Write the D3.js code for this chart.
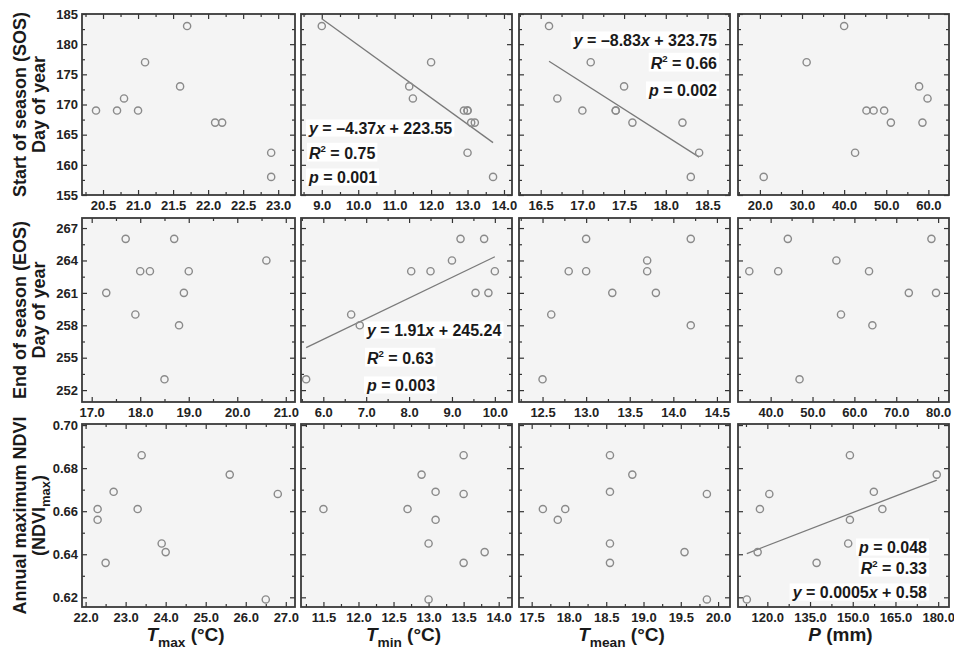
<!DOCTYPE html>
<html>
<head>
<meta charset="utf-8">
<script src="https://cdn.jsdelivr.net/npm/d3@7"></script>
<style>
  body { margin: 0; background: #fff; }
  svg { display: block; font-family: "Liberation Sans", Arial, sans-serif; }
</style>
</head>
<body>
<div id="chart"></div>
<script>
// phenology / NDVI values, one per year (same order used by every driver array below)
var sos = [183, 177, 173, 171, 169, 169, 169, 167, 167, 162, 158];
var eos = [266, 266, 264, 263, 263, 263, 261, 261, 259, 258, 253];
var ndvi = [0.686, 0.677, 0.669, 0.668, 0.661, 0.661, 0.656, 0.645, 0.641, 0.636, 0.619];

// climate drivers paired with SOS
var sosTmax = [21.7, 21.1, 21.6, 20.8, 20.4, 20.7, 21.0, 22.1, 22.2, 22.9, 22.9];
var sosTmin = [9.0, 12.0, 11.4, 11.5, 12.9, 13.0, 13.0, 13.1, 13.2, 13.0, 13.7];
var sosTmean = [16.6, 17.1, 17.5, 16.7, 17.0, 17.4, 17.4, 17.6, 18.2, 18.4, 18.3];
var sosP = [40.0, 31.1, 57.8, 59.8, 45.3, 47.0, 49.5, 51.1, 58.6, 42.6, 20.9];

// climate drivers paired with EOS
var eosTmax = [17.7, 18.7, 20.6, 18.0, 18.2, 19.0, 17.3, 18.9, 17.9, 18.8, 18.5];
var eosTmin = [9.2, 9.75, 9.0, 8.05, 8.5, 10.0, 9.55, 9.85, 6.65, 6.85, 5.6];
var eosTmean = [13.0, 14.2, 13.7, 12.8, 13.0, 13.7, 13.3, 13.8, 12.6, 14.2, 12.5];
var eosP = [44.1, 78.4, 55.7, 34.9, 41.8, 63.5, 73.0, 79.5, 56.8, 64.3, 46.9];

// climate drivers paired with NDVImax
var ndviTmax = [23.4, 25.6, 22.7, 26.8, 22.3, 23.3, 22.3, 23.9, 24.0, 22.5, 26.5];
var ndviTmin = [13.5, 12.9, 13.1, 13.5, 11.5, 12.7, 13.1, 13.0, 13.8, 13.5, 13.0];
var ndviTmean = [18.55, 18.85, 18.55, 19.85, 17.65, 17.95, 17.85, 18.55, 19.55, 18.55, 19.85];
var ndviP = [149.0, 179.5, 157.4, 120.7, 117.4, 160.4, 149.0, 148.4, 116.6, 137.3, 112.8];

// axis ranges and tick labels
var yDomains = [[155, 185], [250.9, 267.93], [0.6155, 0.7005]];
var yTicks = [[155, 160, 165, 170, 175, 180, 185],
              [252, 255, 258, 261, 264, 267],
              [0.62, 0.64, 0.66, 0.68, 0.70]];
var yFormats = ["d", "d", ".2f"];

var xDomains = [
  [[20.2, 23.24], [8.43, 14.22], [16.24, 18.77], [14.8, 64.9]],
  [[16.8, 21.19], [5.48, 10.4], [12.23, 14.65], [32.2, 82.6]],
  [[21.91, 27.23], [11.18, 14.19], [17.33, 20.16], [109.7, 183.8]]
];
var xTicks = [
  [[20.5, 21, 21.5, 22, 22.5, 23], [9, 10, 11, 12, 13, 14], [16.5, 17, 17.5, 18, 18.5], [20, 30, 40, 50, 60]],
  [[17, 18, 19, 20, 21], [6, 7, 8, 9, 10], [12.5, 13, 13.5, 14, 14.5], [40, 50, 60, 70, 80]],
  [[22, 23, 24, 25, 26, 27], [11.5, 12, 12.5, 13, 13.5, 14], [17.5, 18, 18.5, 19, 19.5, 20], [120, 135, 150, 165, 180]]
];

// regression fits [slope, intercept] (null = no fit shown)
var fits = [
  [null, [-4.37, 223.55], [-8.83, 323.75], null],
  [null, [1.91, 245.24], null, null],
  [null, null, null, [0.000511, 0.5827]]
];

var yTitles = [
  [[["Start of season (SOS)", ""]], [["Day of year", ""]]],
  [[["End of season (EOS)", ""]], [["Day of year", ""]]],
  [[["Annual maximum NDVI", ""]], [["(NDVI", ""], ["max", "sub"], [")", ""]]]
];
var xTitles = [
  [["T", "i"], ["max", "sub"], [" (°C)", ""]],
  [["T", "i"], ["min", "sub"], [" (°C)", ""]],
  [["T", "i"], ["mean", "sub"], [" (°C)", ""]],
  [["P", "i"], [" (mm)", ""]]
];

var notes = [
  { r: 0, c: 1, anchor: "start", dx: 8, base: [119.5, 144.5, 168.5], lines: [
    [["y", "i"], [" = \u20134.37", ""], ["x", "i"], [" + 223.55", ""]],
    [["R", "i"], ["2", "sup"], [" = 0.75", ""]],
    [["p", "i"], [" = 0.001", ""]] ] },
  { r: 0, c: 2, anchor: "end", dx: -13, base: [31.5, 54.5, 81.5], lines: [
    [["y", "i"], [" = \u20138.83", ""], ["x", "i"], [" + 323.75", ""]],
    [["R", "i"], ["2", "sup"], [" = 0.66", ""]],
    [["p", "i"], [" = 0.002", ""]] ] },
  { r: 1, c: 1, anchor: "start", dx: 66, base: [117.5, 145.5, 172.5], lines: [
    [["y", "i"], [" = 1.91", ""], ["x", "i"], [" + 245.24", ""]],
    [["R", "i"], ["2", "sup"], [" = 0.63", ""]],
    [["p", "i"], [" = 0.003", ""]] ] },
  { r: 2, c: 3, anchor: "end", dx: -22, base: [128.5, 149.5, 173.5], lines: [
    [["p", "i"], [" = 0.048", ""]],
    [["R", "i"], ["2", "sup"], [" = 0.33", ""]],
    [["y", "i"], [" = 0.0005", ""], ["x", "i"], [" + 0.58", ""]] ] }
];

var rowsY = [sos, eos, ndvi];
var rowsX = [
  [sosTmax, sosTmin, sosTmean, sosP],
  [eosTmax, eosTmin, eosTmean, eosP],
  [ndviTmax, ndviTmin, ndviTmean, ndviP]
];

// layout
var W = 954, H = 649;
var colLeft = [82, 301, 519, 738];
var colWidth = [213, 211, 211, 211];
var rowTop = [14, 218, 424];
var rowHeight = [181, 184, 183];

var svg = d3.select("#chart").append("svg").attr("width", W).attr("height", H);

function rich(text, segs, size) {
  var shift = 0;
  segs.forEach(function (s) {
    var t = text.append("tspan").text(s[0]);
    var want = 0;
    if (s[1] === "i") t.style("font-style", "italic");
    if (s[1] === "sup") { t.attr("font-size", size * 0.6); want = -size * 0.42; }
    if (s[1] === "sub") { t.attr("font-size", size * 0.72); want = size * 0.3; }
    if (want !== shift) { t.attr("dy", want - shift); shift = want; }
  });
}

function minorTicks(major, domain) {
  var step = (major[1] - major[0]) / 2;
  var out = [];
  for (var i = -6; i <= (major.length - 1) * 2 + 6; i++) {
    var v = major[0] + i * step;
    if (i % 2 !== 0 && v >= domain[0] && v <= domain[1]) out.push(v);
  }
  return out;
}

function styleAxis(g) {
  g.select(".domain").remove();
  g.selectAll("line").attr("stroke", "#333").attr("stroke-width", 1.2);
  g.selectAll("text")
    .attr("fill", "#222")
    .attr("font-size", 13)
    .attr("font-weight", "bold")
    .attr("font-family", "'Liberation Sans', Arial, sans-serif");
}

for (var r = 0; r < 3; r++) {
  for (var c = 0; c < 4; c++) {
    var w = colWidth[c], h = rowHeight[r];
    var x = d3.scaleLinear().domain(xDomains[r][c]).range([0, w]);
    var y = d3.scaleLinear().domain(yDomains[r]).range([h, 0]);
    var g = svg.append("g").attr("transform", "translate(" + colLeft[c] + "," + rowTop[r] + ")");

    g.append("rect").attr("width", w).attr("height", h).attr("fill", "#f4f4f4");

    var xMaj = xTicks[r][c], xMin = minorTicks(xMaj, xDomains[r][c]);
    var yMaj = yTicks[r], yMin = minorTicks(yMaj, yDomains[r]);

    // bottom
    g.append("g").attr("transform", "translate(0," + h + ")")
      .call(d3.axisBottom(x).tickValues(xMaj).tickSize(-5).tickPadding(6).tickFormat(d3.format(".1f")))
      .call(styleAxis);
    g.append("g").attr("transform", "translate(0," + h + ")")
      .call(d3.axisBottom(x).tickValues(xMin).tickSize(-3).tickFormat(""))
      .call(styleAxis);
    // top
    g.append("g").call(d3.axisTop(x).tickValues(xMaj).tickSize(-5).tickFormat("")).call(styleAxis);
    g.append("g").call(d3.axisTop(x).tickValues(xMin).tickSize(-3).tickFormat("")).call(styleAxis);
    // left
    g.append("g")
      .call(d3.axisLeft(y).tickValues(yMaj).tickSize(-5).tickPadding(4)
        .tickFormat(c === 0 ? d3.format(yFormats[r]) : ""))
      .call(styleAxis);
    g.append("g").call(d3.axisLeft(y).tickValues(yMin).tickSize(-3).tickFormat("")).call(styleAxis);
    // right
    g.append("g").attr("transform", "translate(" + w + ",0)")
      .call(d3.axisRight(y).tickValues(yMaj).tickSize(-5).tickFormat("")).call(styleAxis);
    g.append("g").attr("transform", "translate(" + w + ",0)")
      .call(d3.axisRight(y).tickValues(yMin).tickSize(-3).tickFormat("")).call(styleAxis);

    // regression line
    var fit = fits[r][c];
    if (fit) {
      var ext = d3.extent(rowsX[r][c]);
      var line = d3.line().x(function (d) { return x(d); })
        .y(function (d) { return y(fit[0] * d + fit[1]); });
      g.append("path").attr("d", line(ext))
        .attr("fill", "none").attr("stroke", "#7a7a7a").attr("stroke-width", 1.3);
    }

    // points
    g.selectAll("circle.pt")
      .data(d3.zip(rowsX[r][c], rowsY[r]))
      .join("circle")
      .attr("class", "pt")
      .attr("cx", function (d) { return x(d[0]); })
      .attr("cy", function (d) { return y(d[1]); })
      .attr("r", 3.6)
      .attr("fill", "none")
      .attr("stroke", "#8a8a8a")
      .attr("stroke-width", 1.4);

    // frame
    g.append("rect").attr("width", w).attr("height", h)
      .attr("fill", "none").attr("stroke", "#3a3a3a").attr("stroke-width", 1.8);
  }
}

// annotations with white boxes
notes.forEach(function (n) {
  var ox = n.anchor === "start" ? colLeft[n.c] + n.dx : colLeft[n.c] + colWidth[n.c] + n.dx;
  var ng = svg.append("g").attr("transform", "translate(" + ox + "," + rowTop[n.r] + ")");
  n.lines.forEach(function (segs, i) {
    var bg = ng.append("rect").attr("fill", "#fff");
    var t = ng.append("text")
      .attr("y", n.base[i])
      .attr("text-anchor", n.anchor)
      .attr("font-size", 16)
      .attr("font-weight", "bold")
      .attr("fill", "#1a1a1a");
    rich(t, segs, 16);
    var bb = t.node().getBBox();
    bg.attr("x", bb.x - 2).attr("y", bb.y).attr("width", bb.width + 4).attr("height", bb.height);
  });
});

// y titles
var yTitleBase = [26, 45];
yTitles.forEach(function (lines, r) {
  var cy = rowTop[r] + rowHeight[r] / 2;
  lines.forEach(function (segs, i) {
    var t = svg.append("text")
      .attr("transform", "translate(" + yTitleBase[i] + "," + cy + ") rotate(-90)")
      .attr("text-anchor", "middle")
      .attr("font-size", 18)
      .attr("font-weight", "bold")
      .attr("fill", "#1a1a1a");
    rich(t, segs, 18);
  });
});

// x titles
xTitles.forEach(function (segs, c) {
  var t = svg.append("text")
    .attr("x", colLeft[c] + colWidth[c] / 2 - 3)
    .attr("y", 641)
    .attr("text-anchor", "middle")
    .attr("font-size", 19)
    .attr("font-weight", "bold")
    .attr("fill", "#1a1a1a");
  rich(t, segs, 19);
});
</script>
</body>
</html>
